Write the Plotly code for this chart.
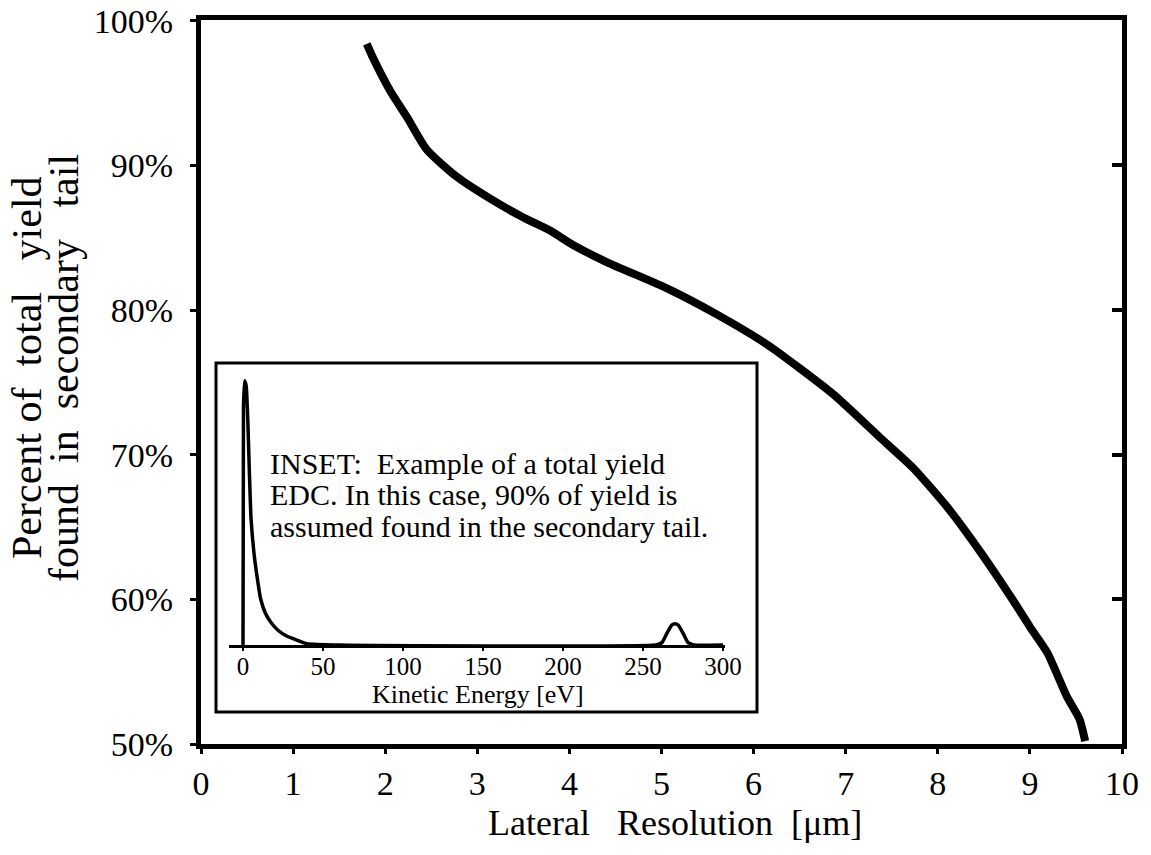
import plotly.graph_objects as go

# Main curve: share of total yield found in the secondary tail vs lateral resolution
resolution_um = [1.80, 1.87, 2.05, 2.24, 2.45, 2.78, 3.14, 3.50, 3.79, 4.04, 4.41,
                 5.06, 5.60, 6.15, 6.86, 7.37, 7.73, 8.10, 8.46, 8.82, 9.00, 9.19,
                 9.40, 9.54, 9.60]
tail_percent = [98.4, 97.4, 95.2, 93.3, 91.1, 89.2, 87.7, 86.4, 85.5, 84.5, 83.3,
                81.5, 79.7, 77.6, 74.2, 71.2, 69.1, 66.4, 63.3, 59.9, 58.1, 56.3,
                53.3, 51.7, 50.2]

# Inset: example total-yield energy distribution curve (EDC)
kinetic_ev = [0, 0.3, 1, 2, 3, 4, 5, 7, 9, 11, 14, 17.5, 22, 27, 33, 40, 60,
              258, 262, 265, 268, 270, 272, 275, 278, 282, 300]
edc_intensity = [0, 0.9, 1.0, 0.98, 0.85, 0.65, 0.48, 0.34, 0.25, 0.175, 0.12,
                 0.085, 0.055, 0.035, 0.02, 0.005, 0.0,
                 0.0, 0.01, 0.045, 0.075, 0.08, 0.075, 0.045, 0.01, 0.0, 0.0]

x_ticks = list(range(0, 11))
y_ticks = [50, 60, 70, 80, 90, 100]
y_tick_text = ["50%", "60%", "70%", "80%", "90%", "100%"]
inset_ticks = [0, 50, 100, 150, 200, 250, 300]

SERIF = "Liberation Serif, Times New Roman, serif"
W, H = 1151, 855
L, R, T, B = 201, 29, 20, 111
PW, PH = W - L - R, H - T - B


def px(xp):
    return (xp - L) / PW


def py(yp):
    return (H - B - yp) / PH


fig = go.Figure()

fig.add_trace(go.Scatter(
    x=resolution_um, y=tail_percent, mode="lines",
    line=dict(color="black", width=8, shape="spline", smoothing=0.6),
    hoverinfo="skip", showlegend=False,
))
# carrier trace for the right-hand tick axis
fig.add_trace(go.Scatter(
    x=resolution_um, y=tail_percent, mode="lines", yaxis="y3",
    opacity=0, hoverinfo="skip", showlegend=False,
))
fig.add_trace(go.Scatter(
    x=kinetic_ev, y=edc_intensity, mode="lines", xaxis="x2", yaxis="y2",
    line=dict(color="black", width=3.5, shape="spline", smoothing=0.4),
    hoverinfo="skip", showlegend=False,
))

fig.update_layout(
    width=W, height=H,
    margin=dict(l=L, r=R, t=T, b=B, autoexpand=False),
    paper_bgcolor="white", plot_bgcolor="white",
    font=dict(family=SERIF, color="black"),
    xaxis=dict(
        range=[0, 10], tickvals=x_ticks, showgrid=False, zeroline=False,
        showline=True, linecolor="black", linewidth=5, mirror=True,
        ticks="outside", ticklen=5, tickwidth=3, tickcolor="black",
        ticklabelstandoff=0, ticklabeloverflow="allow", automargin=False,
        tickfont=dict(size=34, family=SERIF),
    ),
    yaxis=dict(
        range=[50, 100.05], tickvals=y_ticks, ticktext=y_tick_text,
        showgrid=False, zeroline=False, showline=True, linecolor="black",
        linewidth=5, mirror=True, ticks="outside", ticklen=6, tickwidth=3,
        tickcolor="black", ticklabelstandoff=10, ticklabeloverflow="allow",
        automargin=False, tickfont=dict(size=34, family=SERIF),
    ),
    yaxis3=dict(
        range=[50, 100.05], tickvals=[60, 70, 80, 90], overlaying="y",
        side="right", showgrid=False, zeroline=False, showline=False,
        ticks="inside", ticklen=10, tickwidth=4, tickcolor="black",
        showticklabels=False, automargin=False,
    ),
    xaxis2=dict(
        domain=[px(229), px(725)], anchor="y2", range=[-8.75, 301.25],
        tickvals=inset_ticks, showgrid=False, zeroline=False,
        showline=True, linecolor="black", linewidth=3,
        ticks="outside", ticklen=3, tickwidth=2, tickcolor="black",
        ticklabelstandoff=-6, automargin=False,
        tickfont=dict(size=25, family=SERIF),
    ),
    yaxis2=dict(
        domain=[py(645), py(378)], anchor="x2", range=[0, 1.01],
        visible=False,
    ),
    shapes=[dict(
        type="rect", xref="paper", yref="paper",
        x0=px(216), x1=px(757), y0=py(712), y1=py(363),
        line=dict(color="black", width=3), fillcolor="rgba(0,0,0,0)",
    )],
)

annotations = [
    # axis titles
    dict(text="Lateral\u00a0\u00a0\u00a0Resolution\u00a0\u00a0[\u03bcm]", x=px(675), y=py(823),
         font=dict(size=36)),
    dict(text="Percent\u00a0of\u00a0\u00a0total\u00a0\u00a0\u00a0yield", x=px(27), y=py(368),
         textangle=-90, font=dict(size=42)),
    dict(text="found\u00a0\u00a0in\u00a0\u00a0secondary\u00a0\u00a0\u00a0tail", x=px(64), y=py(368),
         textangle=-90, font=dict(size=42)),
    # inset caption
    dict(text="INSET:\u00a0\u00a0Example of a total yield", x=px(268), y=py(463),
         xanchor="left", font=dict(size=30)),
    dict(text="EDC. In this case, 90% of yield is", x=px(268), y=py(494),
         xanchor="left", font=dict(size=30)),
    dict(text="assumed found in the secondary tail.", x=px(268), y=py(526),
         xanchor="left", font=dict(size=30)),
    dict(text="Kinetic Energy [eV]", x=px(478), y=py(694), font=dict(size=26)),
]
for a in annotations:
    a.setdefault("xanchor", "center")
    fig.add_annotation(xref="paper", yref="paper", showarrow=False,
                       yanchor="middle", font_family=SERIF, font_color="black",
                       **{k: v for k, v in a.items() if k != "font"},
                       font_size=a["font"]["size"])

fig.write_html("out.html")
